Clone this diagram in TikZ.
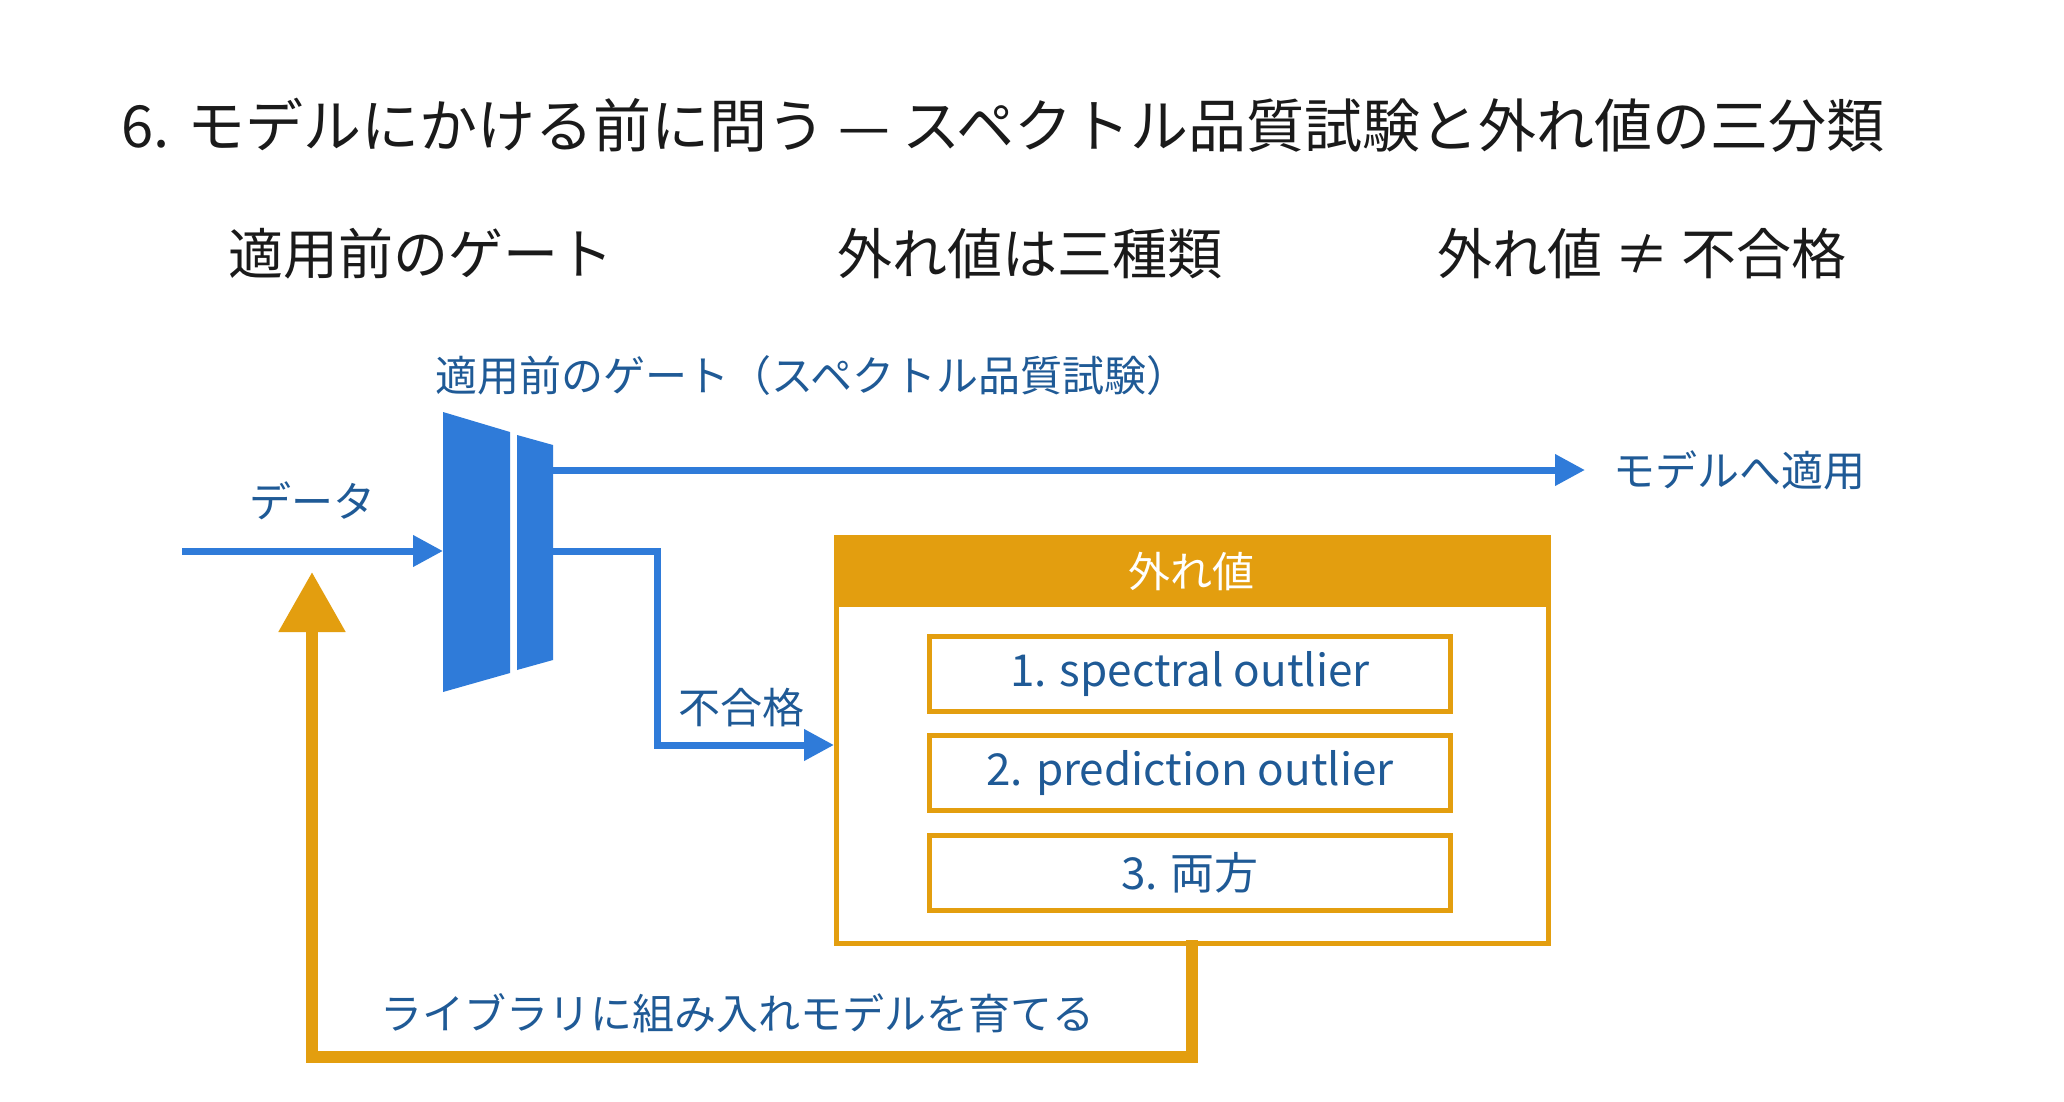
\documentclass[tikz,border=0pt]{standalone}
\usepackage{fontspec}
\setmainfont{Noto Sans CJK JP}
\usetikzlibrary{arrows.meta}
\definecolor{bl}{HTML}{2F7BD9}
\definecolor{bt}{HTML}{1F5A96}
\definecolor{or}{HTML}{E39E0F}
\definecolor{tx}{HTML}{1A1A1A}
\begin{document}
\begin{tikzpicture}[x=1pt,y=-1pt,
  hd/.style={font=\fontsize{55}{60}\selectfont,text=tx},
  lb/.style={font=\fontsize{42}{46}\selectfont,text=bt},
  bline/.style={draw=bl,line width=7pt},
  barrow/.style={bline,-{Triangle[length=30pt,width=30pt]}},
  ibox/.style={draw=or,line width=5pt,minimum width=521pt,minimum height=75pt,font=\fontsize{44}{48}\selectfont,text=bt}]
\useasboundingbox (0,0) rectangle (2064,1101);
\fill[white] (0,0) rectangle (2064,1101);
\node[font=\fontsize{58}{62}\selectfont,text=tx,anchor=west] (title) at (118,125) {6. モデルにかける前に問う — スペクトル品質試験と外れ値の三分類};
\node[hd] (h1) at (421,254) {適用前のゲート};
\node[hd] (h2) at (1030,254) {外れ値は三種類};
\node[hd] (h3) at (1642,254) {外れ値 ≠ 不合格};
% gate
\fill[bl] (443,412) -- (510,432) -- (510,673) -- (443,692) -- cycle;
\fill[bl] (517,435) -- (553,445) -- (553,660) -- (517,670) -- cycle;
\coordinate (gin) at (443,551);
\coordinate (gtop) at (553,470);
\coordinate (glow) at (553,551);
\coordinate (start) at (182,551);
\node[lb,anchor=west] (gl) at (432,376) {適用前のゲート（スペクトル品質試験）};
\node[lb] (data) at (312,501) {データ};
\coordinate (topend) at (1585,470);
\node[lb,anchor=west] (apply) at (1610,470) {モデルへ適用};
\draw[barrow] (start) -- (gin);
\draw[barrow] (gtop) -- (topend);
% outlier box
\node[draw=or,line width=5pt,minimum width=712pt,minimum height=406pt,anchor=north west] (ob) at (834,535) {};
\fill[or] (ob.north west) rectangle (1548,607);
\node[font=\fontsize{42}{46}\selectfont,text=white] (oh) at (1191,571) {外れ値};
\node[ibox] (b1) at (1190,674) {1. spectral outlier};
\node[ibox] (b2) at (1190,773) {2. prediction outlier};
\node[ibox] (b3) at (1190,873) {3. 両方};
\draw[barrow] (glow) -- (657,551) -- (657,745) -- (ob.west |- 0,745);
\node[lb] (rej) at (741,708) {不合格};
% return
\draw[draw=or,line width=12pt,-{Triangle[length=60pt,width=64pt]}] (1192,940) -- (1192,1057) -- (312,1057) -- (312,572);
\node[lb] (ret) at (737,1013) {ライブラリに組み入れモデルを育てる};
\end{tikzpicture}
\end{document}
